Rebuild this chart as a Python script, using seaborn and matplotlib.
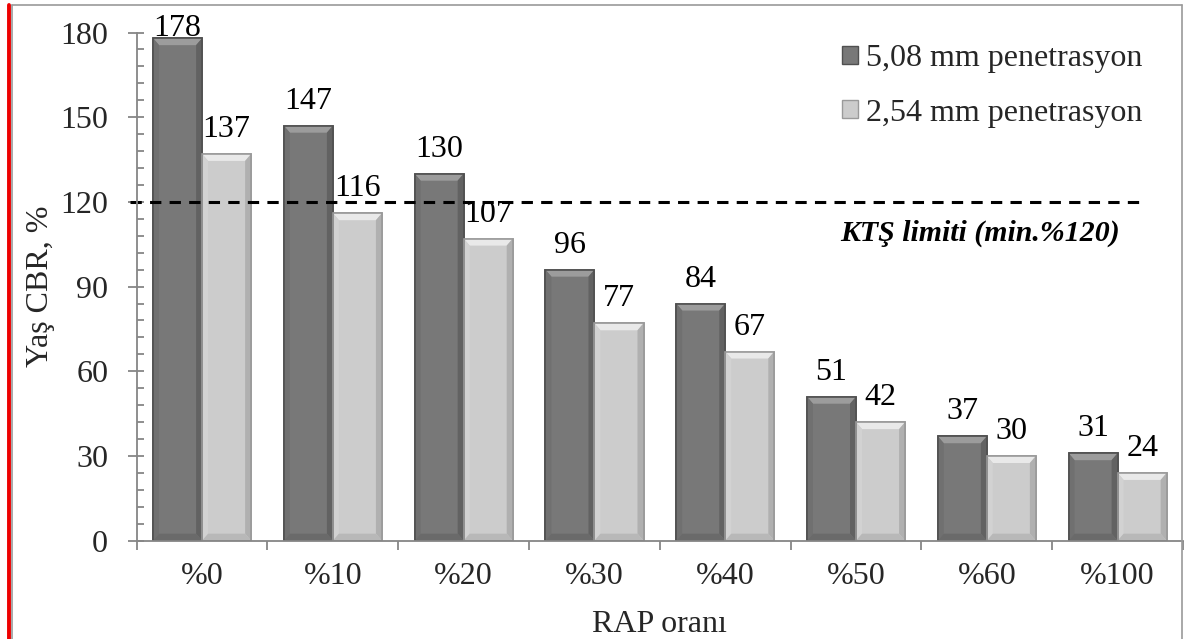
import matplotlib
matplotlib.use("Agg")
import matplotlib.pyplot as plt
import seaborn as sns
import pandas as pd
from matplotlib.lines import Line2D
from matplotlib.patches import Polygon
from matplotlib.ticker import MultipleLocator, FixedLocator

# Wet CBR values by RAP ratio
categories = ["%0", "%10", "%20", "%30", "%40", "%50", "%60", "%100"]
cbr_508 = [178, 147, 130, 96, 84, 51, 37, 31]
cbr_254 = [137, 116, 107, 77, 67, 42, 30, 24]
series_names = ["5,08 mm penetrasyon", "2,54 mm penetrasyon"]
limit_value = 120
limit_label = "KTŞ limiti (min.%120)"
x_title = "RAP oranı"
y_title = "Yaş CBR, %"

df = pd.DataFrame({
    "RAP": categories * 2,
    "CBR": cbr_508 + cbr_254,
    "Seri": [series_names[0]] * len(categories) + [series_names[1]] * len(categories),
})

sns.set_theme(style="white")
plt.rcParams["font.family"] = ["Liberation Serif", "DejaVu Serif"]
FS = 23
AXC = "#868686"

W, H = 1184, 639
fig = plt.figure(figsize=(W / 100, H / 100), dpi=100)
fig.patch.set_facecolor("white")
ax = fig.add_axes([136.7 / W, 1 - 540.7 / H, (1183 - 136.7) / W, (540.7 - 32.5) / H])

base_cols = ["#787878", "#cccccc"]
sns.barplot(data=df, x="RAP", y="CBR", hue="Seri", order=categories,
            hue_order=series_names, palette=base_cols,
            saturation=1, width=0.75, ax=ax, errorbar=None)

ax.set_xlim(-0.5, len(categories) - 0.5)
ax.set_ylim(0, 180)

# bevelled bar faces: lighter top, darker right/bottom
edge_cols = ["#505050", "#9a9a9a"]
bevel_cols = [
    {"top": "#9c9c9c", "left": "#707070", "right": "#626262", "bottom": "#6a6a6a"},
    {"top": "#e9e9e9", "left": "#d2d2d2", "right": "#b0b0b0", "bottom": "#b8b8b8"},
]
px_x = (1183 - 136.7) / len(categories)
px_y = (540.7 - 32.5) / 180
bx, by = 6 / px_x, 7 / px_y
for cont, ec, bc in zip(ax.containers, edge_cols, bevel_cols):
    for bar in cont:
        bar.set_edgecolor(ec)
        bar.set_linewidth(1.2)
        x0, w, h = bar.get_x(), bar.get_width(), bar.get_height()
        x1 = x0 + w
        faces = {
            "top": [(x0, h), (x1, h), (x1 - bx, h - by), (x0 + bx, h - by)],
            "left": [(x0, 0), (x0, h), (x0 + bx, h - by), (x0 + bx, by)],
            "right": [(x1, 0), (x1, h), (x1 - bx, h - by), (x1 - bx, by)],
            "bottom": [(x0, 0), (x1, 0), (x1 - bx, by), (x0 + bx, by)],
        }
        for k, pts in faces.items():
            ax.add_patch(Polygon(pts, closed=True, facecolor=bc[k],
                                 edgecolor="none", zorder=bar.get_zorder() + 0.1))
        ax.add_patch(Polygon([(x0, 0), (x0, h), (x1, h), (x1, 0)], closed=True,
                             facecolor="none", edgecolor=ec, linewidth=1.2,
                             zorder=bar.get_zorder() + 0.2))

# value labels above each bar
for cont in ax.containers:
    for bar in cont:
        h = bar.get_height()
        ax.text(bar.get_x() + bar.get_width() / 2, min(h + 6.0, 178.6),
                f"{h:.0f}", ha="center", va="baseline", fontsize=FS,
                color="black", clip_on=False)

# limit line
ax.hlines(limit_value, -0.55, 7.17, colors="black", linestyles=(0, (3.7, 2.7)),
          linewidth=2.2, clip_on=False, zorder=5)
ax.text(7.02, limit_value - 11, limit_label, ha="right", va="center",
        fontsize=21.5, fontweight="bold", fontstyle="italic", color="black")

# axes styling
for s in ["top", "right"]:
    ax.spines[s].set_visible(False)
for s in ["left", "bottom"]:
    ax.spines[s].set_color(AXC)
    ax.spines[s].set_linewidth(1.3)
    ax.spines[s].set_zorder(6)

ax.yaxis.set_major_locator(MultipleLocator(30))
ax.yaxis.set_minor_locator(MultipleLocator(6))
ax.yaxis.remove_overlapping_locs = False
ax.tick_params(axis="y", which="major", direction="out", length=6.5, width=1.3,
               color=AXC, labelsize=FS, pad=14, left=True)
ax.tick_params(axis="y", which="minor", direction="in", length=4.8, width=1.3,
               color=AXC, left=True)

ax.xaxis.set_minor_locator(FixedLocator([i - 0.5 for i in range(len(categories) + 1)]))
ax.tick_params(axis="x", which="major", length=0, labelsize=FS, pad=15, bottom=True)
ax.tick_params(axis="x", which="minor", direction="out", length=6.3, width=1.3,
               color=AXC, bottom=True)

ax.set_xlabel(x_title, fontsize=FS, labelpad=14)
ax.set_ylabel(y_title, fontsize=FS)
ax.yaxis.set_label_coords((55 - 136.7) / (1183 - 136.7), 0.5)

leg = ax.legend(loc="upper left", bbox_to_anchor=(842 / W, 1 - 44 / H),
                bbox_transform=fig.transFigure, frameon=False, fontsize=FS,
                handlelength=0.5, handleheight=0.5, handletextpad=0.25,
                labelspacing=0.8, borderpad=0, borderaxespad=0, title=None)
for hnd, ec in zip(leg.legend_handles, edge_cols):
    hnd.set_edgecolor(ec)

# chart frame
fig.add_artist(Line2D([11.5 / W, 1182 / W], [1 - 5 / H, 1 - 5 / H],
                      transform=fig.transFigure, color="#9a9a9a", linewidth=1.2))
fig.add_artist(Line2D([1182 / W, 1182 / W], [1 - 5 / H, 0],
                      transform=fig.transFigure, color="#9a9a9a", linewidth=1.2))
fig.add_artist(Line2D([11.8 / W, 11.8 / W], [1 - 5 / H, 0],
                      transform=fig.transFigure, color="#9a9a9a", linewidth=1.2))
fig.add_artist(Line2D([9.2 / W, 9.2 / W], [1 - 5 / H, 0],
                      transform=fig.transFigure, color="#ee0000", linewidth=2.8))

fig.savefig("out.png", dpi=100, facecolor="white")
